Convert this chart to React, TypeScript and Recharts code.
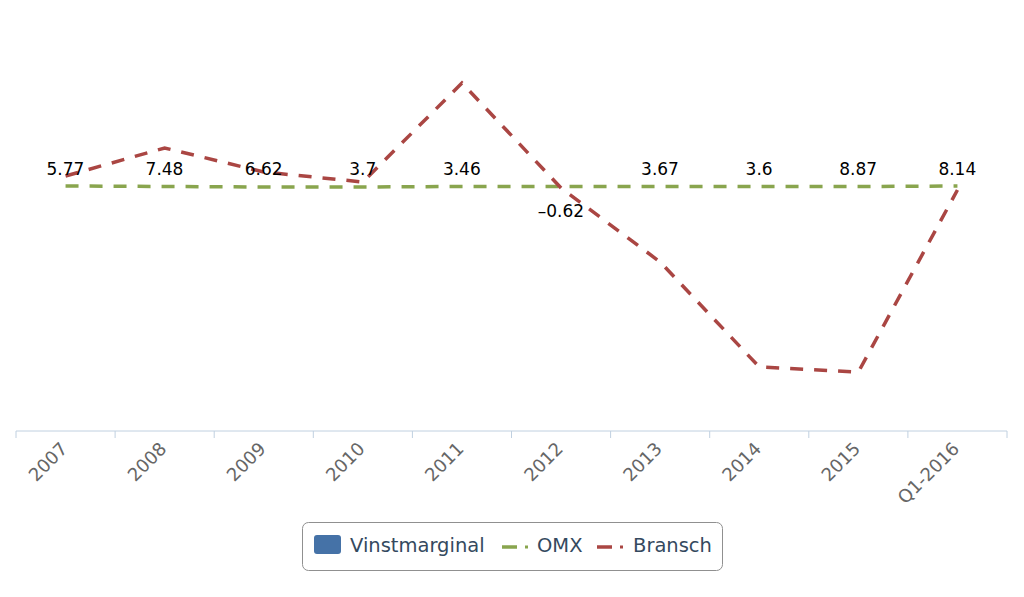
import { Bar, ComposedChart, LabelList, Legend, Line, XAxis, YAxis } from "recharts";

const categories = ["2007", "2008", "2009", "2010", "2011", "2012", "2013", "2014", "2015", "Q1-2016"];
const vinstmarginal = [5.77, 7.48, 6.62, 3.7, 3.46, -0.62, 3.67, 3.6, 8.87, 8.14];
const omx = [4.5, 4.45, 4.4, 4.4, 4.45, 4.45, 4.45, 4.45, 4.45, 4.5];
const bransch = [5.5, 8.3, 5.9, 4.9, 14.8, 4.3, -3.1, -13.6, -14.1, 4.1];

const data = categories.map((cat, i) => ({
  cat,
  vinstmarginal: vinstmarginal[i],
  omx: omx[i],
  bransch: bransch[i],
}));

const FONT = "'DejaVu Sans', Verdana, sans-serif";
const AXIS_COLOR = "#c0d0e0";
const PLOT_LEFT = 16;
const PLOT_RIGHT = 17;
const WIDTH = 1024;
const BAND = (WIDTH - PLOT_LEFT - PLOT_RIGHT) / categories.length;

function CategoryTick(props: any) {
  const { x, y, payload, index } = props;
  const ax = x + 3;
  const ay = y + 19;
  return (
    <g>
      {index === 0 && (
        <line x1={x - BAND / 2} y1={y} x2={x - BAND / 2} y2={y + 7} stroke={AXIS_COLOR} strokeWidth={1} />
      )}
      <line x1={x + BAND / 2} y1={y} x2={x + BAND / 2} y2={y + 7} stroke={AXIS_COLOR} strokeWidth={1} />
      <text
        x={ax}
        y={ay}
        textAnchor="end"
        fill="#666666"
        fontSize={18}
        fontFamily={FONT}
        transform={`rotate(-45, ${ax}, ${ay})`}
      >
        {payload.value}
      </text>
    </g>
  );
}

function BarValueLabel(props: any) {
  const { x, y, width, height, value } = props;
  const cx = x + width / 2;
  const top = Math.min(y, y + height);
  const bottom = Math.max(y, y + height);
  const ty = value >= 0 ? top - 10.5 : bottom + 31;
  const text = value < 0 ? `\u2013${Math.abs(value)}` : `${value}`;
  return (
    <text x={cx} y={ty} textAnchor="middle" fill="#000000" fontSize={17} fontFamily={FONT}>
      {text}
    </text>
  );
}

function LegendBox() {
  const textColor = "#34495e";
  return (
    <svg width={421} height={49} style={{ display: "block" }}>
      <rect x={0.5} y={0.5} width={420} height={48} rx={6} fill="#ffffff" stroke="#909090" strokeWidth={1} />
      <rect x={12} y={13} width={27} height={19} rx={3} fill="#4572A7" />
      <text x={48} y={30} fill={textColor} fontSize={19.5} fontFamily={FONT}>
        Vinstmarginal
      </text>
      <line x1={200} y1={25} x2={215} y2={25} stroke="#89A54E" strokeWidth={3.5} />
      <rect x={223} y={23.5} width={3} height={3} fill="#89A54E" />
      <text x={235} y={30} fill={textColor} fontSize={19.5} fontFamily={FONT}>
        OMX
      </text>
      <line x1={295} y1={25} x2={310} y2={25} stroke="#AA4643" strokeWidth={3.5} />
      <rect x={318} y={23.5} width={3} height={3} fill="#AA4643" />
      <text x={331} y={30} fill={textColor} fontSize={19.5} fontFamily={FONT}>
        Bransch
      </text>
    </svg>
  );
}

export default function App() {
  return (
    <div style={{ position: "absolute", left: 0, top: 0, background: "#ffffff", fontFamily: FONT }}>
      <ComposedChart
        width={WIDTH}
        height={597}
        data={data}
        margin={{ top: 31, right: PLOT_RIGHT, bottom: 0, left: PLOT_LEFT }}
      >
        <XAxis
          dataKey="cat"
          height={166}
          interval={0}
          tickSize={0}
          tickMargin={0}
          tickLine={false}
          axisLine={{ stroke: AXIS_COLOR, strokeWidth: 1 }}
          tick={<CategoryTick />}
        />
        <YAxis yAxisId="bar" hide domain={[-61250, 38750]} />
        <YAxis yAxisId="line" hide domain={[-20, 20]} allowDataOverflow />
        <Legend
          layout="horizontal"
          verticalAlign="middle"
          align="center"
          content={<LegendBox />}
          wrapperStyle={{ left: 302, top: 522, width: 421, height: 49 }}
        />
        <Bar yAxisId="bar" dataKey="vinstmarginal" name="Vinstmarginal" fill="#4572A7" isAnimationActive={false}>
          <LabelList dataKey="vinstmarginal" content={<BarValueLabel />} />
        </Bar>
        <Line
          yAxisId="line"
          type="linear"
          dataKey="omx"
          name="OMX"
          stroke="#89A54E"
          strokeWidth={3.5}
          strokeDasharray="13 11"
          dot={false}
          activeDot={false}
          isAnimationActive={false}
        />
        <Line
          yAxisId="line"
          type="linear"
          dataKey="bransch"
          name="Bransch"
          stroke="#AA4643"
          strokeWidth={3.5}
          strokeDasharray="13 11"
          dot={false}
          activeDot={false}
          isAnimationActive={false}
        />
      </ComposedChart>
    </div>
  );
}
